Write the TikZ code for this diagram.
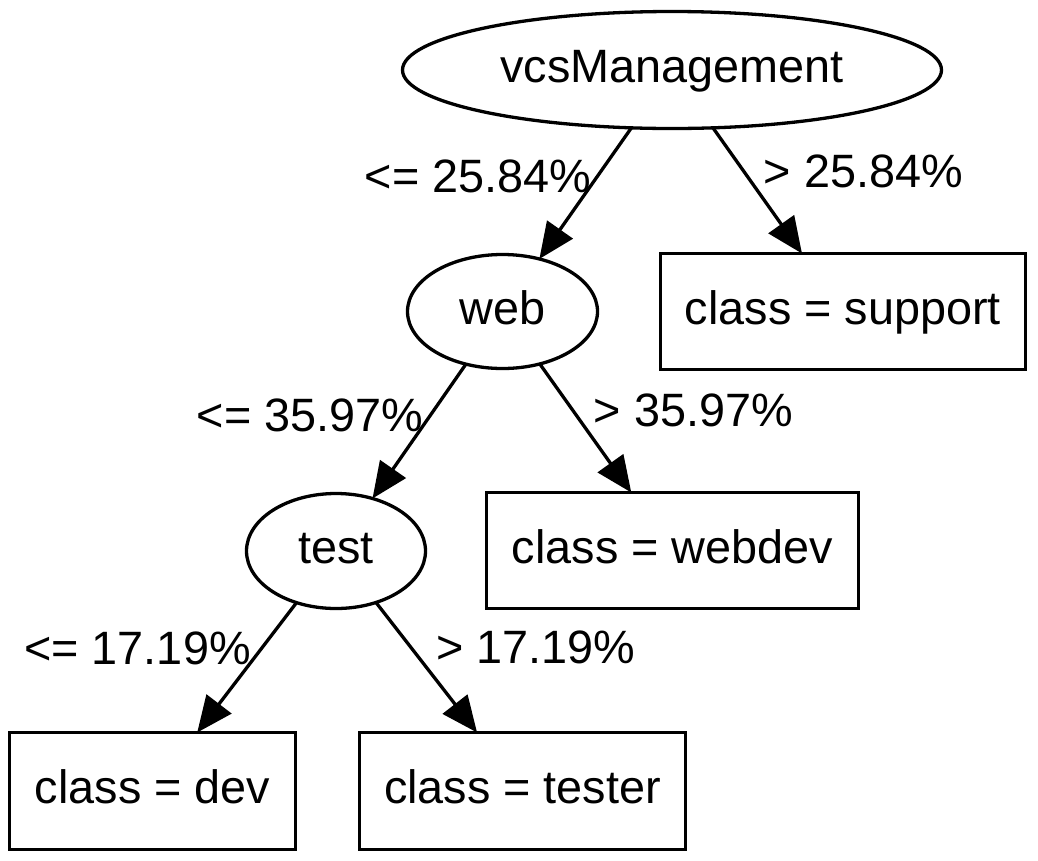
\documentclass[tikz,border=0pt]{standalone}
\usepackage{fontspec}
\setmainfont{Liberation Sans}
\usetikzlibrary{arrows.meta,shapes.geometric}
\begin{document}
\begin{tikzpicture}[x=1pt,y=-1pt,
  every node/.style={inner sep=0pt,outer sep=0pt,font=\fontsize{46.8}{56}\selectfont},
  ell/.style={draw,ellipse,line width=3.3pt,text height=34pt,text depth=9pt},
  box/.style={draw,rectangle,line width=3.3pt,text height=34pt,text depth=9pt},
  lbl/.style={anchor=base},
  arr/.style={line width=3.3pt,-{Triangle[length=36pt,width=31pt]}}]
\useasboundingbox (0,0) rectangle (1038,860);
\node[ell,minimum width=539pt,minimum height=117pt] (vcs) at (672,70) {vcsManagement};
\node[ell,minimum width=190pt,minimum height=114pt] (web) at (502.5,311.5) {web};
\node[ell,minimum width=179pt,minimum height=115pt] (test) at (336,551) {test};
\node[box,minimum width=365pt,minimum height=116pt] (support) at (843,311.5) {class = support};
\node[box,minimum width=372pt,minimum height=116pt] (webdev) at (672.5,550.5) {class = webdev};
\node[box,minimum width=286pt,minimum height=117pt] (dev) at (152.5,791) {class = dev};
\node[box,minimum width=326pt,minimum height=117pt] (tester) at (522.5,791) {class = tester};
\draw[arr] (vcs) -- (web);
\draw[arr] (vcs) -- (support);
\draw[arr] (web) -- (test);
\draw[arr] (web) -- (webdev);
\draw[arr] (test) -- (dev);
\draw[arr] (test) -- (tester);
\node[lbl] (l1) at (478,192) {<= 25.84\%};
\node[lbl] (l2) at (863.5,187) {> 25.84\%};
\node[lbl] (l3) at (310,431) {<= 35.97\%};
\node[lbl] (l4) at (693.5,426) {> 35.97\%};
\node[lbl] (l5) at (137.5,664) {<= 17.19\%};
\node[lbl] (l6) at (536,663) {> 17.19\%};
\end{tikzpicture}
\end{document}
